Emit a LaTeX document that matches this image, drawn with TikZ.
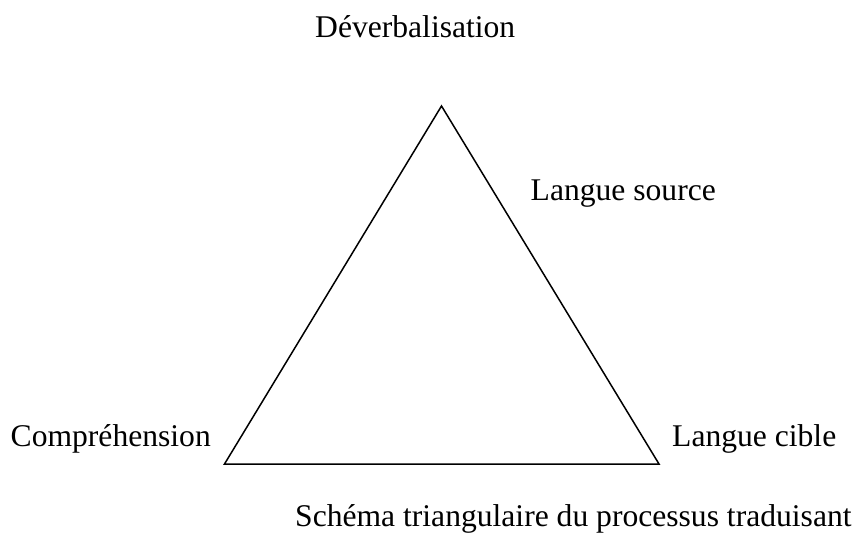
\documentclass[tikz,border=0pt]{standalone}
\usepackage{fontspec}
\setmainfont{Liberation Serif}
\begin{document}
\begin{tikzpicture}[x=1pt,y=1pt,
  lbl/.style={anchor=base west,inner sep=0pt,font=\fontsize{31.6}{38}\selectfont}]
\useasboundingbox (0,0) rectangle (858,533);
\coordinate (top) at (441.5,427);
\coordinate (bl) at (224.5,69);
\coordinate (br) at (659,69);
\draw[line width=1.5pt,line join=miter] (top) -- (br) -- (bl) -- cycle;
\node[lbl] (deverb) at (315,495.5) {Déverbalisation};
\node[lbl] (source) at (530.5,332) {Langue source};
\node[lbl] (compr) at (10.5,86.5) {Compréhension};
\node[lbl] (cible) at (672,86.5) {Langue cible};
\node[lbl] (schema) at (295,6.5) {Schéma triangulaire du processus traduisant};
\end{tikzpicture}
\end{document}
